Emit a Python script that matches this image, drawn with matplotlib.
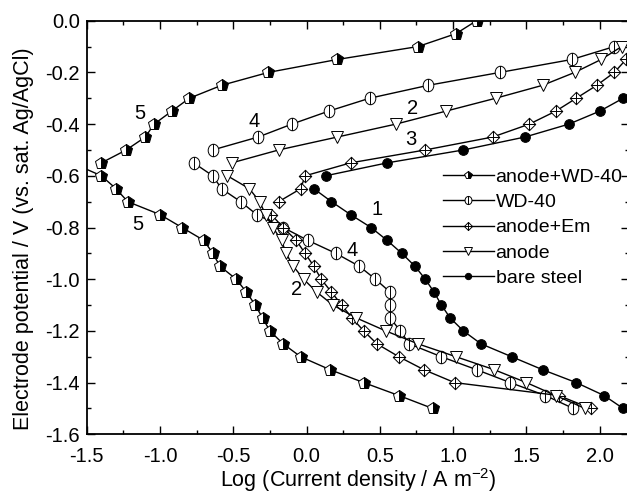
import matplotlib.pyplot as plt
import numpy as np
from matplotlib.path import Path
from matplotlib.transforms import Affine2D
from matplotlib.ticker import MultipleLocator, FormatStrFormatter

plt.rcParams['font.family'] = ['Liberation Sans', 'DejaVu Sans']
plt.rcParams['mathtext.default'] = 'regular'
plt.rcParams['axes.unicode_minus'] = False
plt.rcParams['font.size'] = 14

# anode+WD-40 (curve 5)
aw_up_x = [-1.40, -1.23, -1.10, -1.04, -0.92, -0.80, -0.58, -0.26, 0.21, 0.76, 1.02, 1.16]
aw_up_y = [-0.55, -0.50, -0.45, -0.40, -0.35, -0.30, -0.25, -0.20, -0.15, -0.10, -0.05, 0.00]
aw_lo_x = [-1.60, -1.40, -1.30, -1.22, -1.00, -0.85, -0.70, -0.64, -0.59, -0.48, -0.41,
           -0.35, -0.30, -0.25, -0.16, -0.04, 0.16, 0.39, 0.63, 0.86]
aw_lo_y = [-0.55, -0.60, -0.65, -0.70, -0.75, -0.80, -0.85, -0.90, -0.95, -1.00, -1.05,
           -1.10, -1.15, -1.20, -1.25, -1.30, -1.35, -1.40, -1.45, -1.50]

# WD-40 (curve 4)
wd_up_x = [-0.64, -0.33, -0.10, 0.15, 0.43, 0.83, 1.32, 1.81, 2.10]
wd_up_y = [-0.50, -0.45, -0.40, -0.35, -0.30, -0.25, -0.20, -0.15, -0.10]
wd_lo_x = [-0.77, -0.64, -0.58, -0.45, -0.34, -0.16, 0.01, 0.20, 0.36, 0.47, 0.57, 0.57,
           0.57, 0.64, 0.70, 0.92, 1.16, 1.39, 1.63, 1.82]
wd_lo_y = [-0.55, -0.60, -0.65, -0.70, -0.75, -0.80, -0.85, -0.90, -0.95, -1.00, -1.05,
           -1.10, -1.15, -1.20, -1.25, -1.30, -1.35, -1.40, -1.45, -1.50]

# anode+Em (curve 3)
em_up_x = [-0.19, -0.04, -0.01, 0.30, 0.81, 1.27, 1.52, 1.70, 1.84, 1.98, 2.10, 2.18]
em_up_y = [-0.70, -0.65, -0.60, -0.55, -0.50, -0.45, -0.40, -0.35, -0.30, -0.25, -0.20, -0.15]
em_lo_x = [-0.24, -0.16, -0.07, -0.01, 0.05, 0.10, 0.17, 0.24, 0.31, 0.39, 0.48, 0.63,
           0.80, 1.01, 1.72, 1.94]
em_lo_y = [-0.75, -0.80, -0.85, -0.90, -0.95, -1.00, -1.05, -1.10, -1.15, -1.20, -1.25,
           -1.30, -1.35, -1.40, -1.45, -1.50]

# anode (curve 2)
an_up_x = [-0.51, -0.19, 0.21, 0.61, 0.95, 1.29, 1.61, 1.83, 2.01, 2.15]
an_up_y = [-0.55, -0.50, -0.45, -0.40, -0.35, -0.30, -0.25, -0.20, -0.15, -0.10]
an_lo_x = [-0.54, -0.39, -0.32, -0.28, -0.23, -0.17, -0.14, -0.09, -0.02, 0.07, 0.18,
           0.34, 0.54, 0.76, 1.02, 1.28, 1.50, 1.70, 1.90]
an_lo_y = [-0.60, -0.65, -0.70, -0.75, -0.80, -0.85, -0.90, -0.95, -1.00, -1.05, -1.10,
           -1.15, -1.20, -1.25, -1.30, -1.35, -1.40, -1.45, -1.50]

# bare steel (curve 1)
bs_up_x = [0.13, 0.55, 1.07, 1.49, 1.79, 2.00, 2.16]
bs_up_y = [-0.60, -0.55, -0.50, -0.45, -0.40, -0.35, -0.30]
bs_lo_x = [0.05, 0.17, 0.30, 0.44, 0.55, 0.65, 0.74, 0.81, 0.87, 0.92, 0.98, 1.07, 1.19,
           1.40, 1.61, 1.84, 2.03, 2.16]
bs_lo_y = [-0.65, -0.70, -0.75, -0.80, -0.85, -0.90, -0.95, -1.00, -1.05, -1.10, -1.15,
           -1.20, -1.25, -1.30, -1.35, -1.40, -1.45, -1.50]

# curve numbers
num_text = ['5', '4', '2', '3', '1', '5', '2', '4']
num_x = [-1.14, -0.36, 0.72, 0.71, 0.48, -1.15, -0.07, 0.31]
num_y = [-0.36, -0.39, -0.34, -0.46, -0.73, -0.79, -1.04, -0.89]

# custom markers
line_v = Path([(0, -1), (0, 1)], [Path.MOVETO, Path.LINETO])
line_h = Path([(-1, 0), (1, 0)], [Path.MOVETO, Path.LINETO])
oval = Path.unit_circle().transformed(Affine2D().scale(0.85, 1))
circ_bar = Path.make_compound_path(oval, line_v)
diamond = Path([(0, 1), (1, 0), (0, -1), (-1, 0), (0, 1)],
               [Path.MOVETO, Path.LINETO, Path.LINETO, Path.LINETO, Path.CLOSEPOLY])
diam_cross = Path.make_compound_path(diamond, line_v, line_h)

fig = plt.figure(figsize=(6.27, 4.96), dpi=100)
ax = fig.add_axes([86.7 / 627, 1 - 434.3 / 496, (629 - 86.7) / 627, (434.3 - 20.7) / 496])

common = dict(color='black', lw=1.0, mec='black', mew=0.7)

series = [
    ('anode+WD-40', [(aw_up_x, aw_up_y), (aw_lo_x, aw_lo_y)],
     dict(marker='p', ms=9, fillstyle='right', mfc='black', mfcalt='white')),
    ('WD-40', [(wd_up_x, wd_up_y), (wd_lo_x, wd_lo_y)],
     dict(marker=circ_bar, ms=9, mfc='white')),
    ('anode+Em', [(em_up_x, em_up_y), (em_lo_x, em_lo_y)],
     dict(marker=diam_cross, ms=9, mfc='white')),
    ('anode', [(an_up_x, an_up_y), (an_lo_x, an_lo_y)],
     dict(marker='v', ms=8.5, mfc='white')),
    ('bare steel', [(bs_up_x, bs_up_y), (bs_lo_x, bs_lo_y)],
     dict(marker='o', ms=7, mfc='black')),
]

handles = []
for name, branches, style in series:
    for i, (xs, ys) in enumerate(branches):
        h, = ax.plot(xs, ys, label=name if i == 0 else None, **common, **style)
        if i == 0:
            handles.append(h)

for t, x, y in zip(num_text, num_x, num_y):
    ax.text(x, y, t, ha='center', va='center', fontsize=14.5)

ax.set_xlim(-1.5, 2.2)
ax.set_ylim(-1.6, 0.0)
ax.xaxis.set_major_locator(MultipleLocator(0.5))
ax.xaxis.set_minor_locator(MultipleLocator(0.25))
ax.yaxis.set_major_locator(MultipleLocator(0.2))
ax.yaxis.set_minor_locator(MultipleLocator(0.1))
ax.xaxis.set_major_formatter(FormatStrFormatter('%.1f'))
ax.yaxis.set_major_formatter(FormatStrFormatter('%.1f'))
ax.tick_params(which='both', direction='in', top=True, right=True, width=1, labelsize=14.5)
ax.tick_params(which='major', length=6)
ax.tick_params(which='minor', length=3)
ax.tick_params(axis='x', which='major', pad=9)
ax.tick_params(axis='y', which='major', pad=5)
for s in ax.spines.values():
    s.set_linewidth(1.3)

ax.set_xlabel('Log (Current density / A m$^{-2}$)', fontsize=15.5, labelpad=0)
ax.set_ylabel('Electrode potential / V (vs. sat. Ag/AgCl)', fontsize=15.5)
ax.yaxis.set_label_coords(-0.097, 0.472)

ax.legend(handles=handles, loc='upper left', bbox_to_anchor=(443 / 627, 1 - 168 / 496),
          bbox_transform=fig.transFigure, frameon=False, borderpad=0, borderaxespad=0,
          handlelength=2.6, handletextpad=0.1, labelspacing=0.4, markerscale=0.65,
          numpoints=1, fontsize=14)

fig.savefig('out.png', dpi=100)
